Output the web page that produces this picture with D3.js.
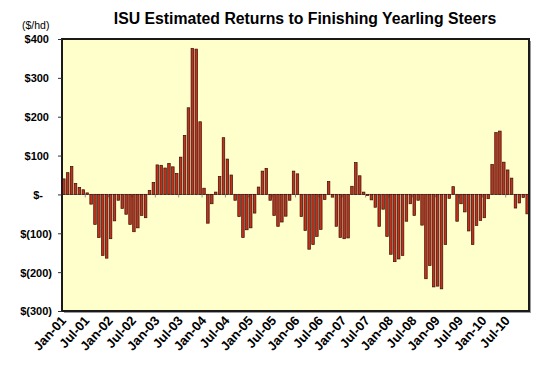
<!DOCTYPE html>
<html>
<head>
<meta charset="utf-8">
<script src="https://cdn.jsdelivr.net/npm/d3@7"></script>
<style>
  body { margin: 0; background: #fff; }
  svg text { font-family: "Liberation Sans", Arial, sans-serif; }
</style>
</head>
<body>
<svg id="chart"></svg>
<script>
var monthNames = ["Jan", "Feb", "Mar", "Apr", "May", "Jun", "Jul", "Aug", "Sep", "Oct", "Nov", "Dec"];
var years = ["01", "02", "03", "04", "05", "06", "07", "08", "09", "10"];

// returns in $/hd, one value per month Jan-01 .. Dec-10
var returns2001 = [40, 56, 72, 28, 18, 12, 4, -25, -77, -111, -157, -164];
var returns2002 = [-114, -68, -15, -36, -51, -77, -96, -86, -54, -60, 10, 31];
var returns2003 = [76, 75, 68, 80, 71, 54, 96, 152, 223, 376, 374, 187];
var returns2004 = [16, -74, -24, 6, 46, 146, 91, 50, -15, -57, -111, -91];
var returns2005 = [-86, -48, 19, 60, 67, -15, -54, -82, -71, -56, -15, 60];
var returns2006 = [53, -57, -93, -141, -129, -108, -90, -13, 33, -7, -82, -111];
var returns2007 = [-114, -112, 21, 82, 48, 6, -3, -14, -33, -82, -38, -108];
var returns2008 = [-154, -173, -166, -157, -69, -24, -54, -15, -79, -217, -183, -238];
var returns2009 = [-236, -243, -129, -10, 20, -69, -24, -45, -94, -129, -80, -67];
var returns2010 = [-60, -11, 77, 159, 163, 83, 63, 42, -35, -22, -8, -50];

var yTicks = [400, 300, 200, 100, 0, -100, -200, -300];
var yTickLabels = ["$400", "$300", "$200", "$100", "$-", "$(100)", "$(200)", "$(300)"];

var categories = [];
years.forEach(y => monthNames.forEach(m => categories.push(m + "-" + y)));
var values = [].concat(returns2001, returns2002, returns2003, returns2004, returns2005,
    returns2006, returns2007, returns2008, returns2009, returns2010);
var data = categories.map((c, i) => ({ cat: c, val: values[i] }));
var xTickLabels = categories.filter((c, i) => i % 6 == 0);

var width = 550, height = 366;
var margin = { top: 39, right: 21, bottom: 55, left: 62 };
var svg = d3.select("#chart").attr("width", width).attr("height", height);

var x = d3.scaleBand()
    .domain(categories)
    .range([margin.left, width - margin.right])
    .paddingInner(0.35)
    .paddingOuter(0.15);

var y = d3.scaleLinear()
    .domain([-300, 400])
    .range([height - margin.bottom, margin.top]);

var plotW = width - margin.left - margin.right;
var plotH = height - margin.top - margin.bottom;

// shadow + plot background
svg.append("rect")
    .attr("x", margin.left + 2).attr("y", margin.top + 2)
    .attr("width", plotW).attr("height", plotH)
    .attr("fill", "#9a9a9a");
svg.append("rect")
    .attr("x", margin.left).attr("y", margin.top)
    .attr("width", plotW).attr("height", plotH)
    .attr("fill", "#ffffcc");

// zero line
svg.append("line")
    .attr("x1", margin.left).attr("x2", width - margin.right)
    .attr("y1", y(0)).attr("y2", y(0))
    .attr("stroke", "#8c8c8c").attr("stroke-width", 1);

// minor ticks on zero line every 6 months
var step = x.step();
svg.selectAll(".zt")
    .data(xTickLabels.slice(1))
    .enter().append("line")
    .attr("x1", d => x(d) - step * x.paddingInner() / 2)
    .attr("x2", d => x(d) - step * x.paddingInner() / 2)
    .attr("y1", y(0)).attr("y2", y(0) + 3)
    .attr("stroke", "#8c8c8c");

// bars
svg.selectAll(".bar")
    .data(data)
    .enter().append("rect")
    .attr("class", "bar")
    .attr("x", d => x(d.cat))
    .attr("width", x.bandwidth())
    .attr("y", d => y(Math.max(0, d.val)))
    .attr("height", d => Math.abs(y(d.val) - y(0)))
    .attr("fill", "#c0321c")
    .attr("stroke", "#3a0c06")
    .attr("stroke-width", 0.7);

// frame
svg.append("rect")
    .attr("x", margin.left).attr("y", margin.top)
    .attr("width", plotW).attr("height", plotH)
    .attr("fill", "none")
    .attr("stroke", "#1a1a1a").attr("stroke-width", 2);

// y axis
var yAxis = d3.axisLeft(y)
    .tickValues(yTicks)
    .tickSize(4)
    .tickFormat((d, i) => yTickLabels[i]);
var gy = svg.append("g")
    .attr("transform", `translate(${margin.left},0)`)
    .call(yAxis);
gy.select(".domain").remove();
gy.selectAll(".tick line").attr("stroke", "#333");
gy.selectAll(".tick text")
    .attr("font-size", "11px")
    .attr("font-weight", "bold")
    .attr("fill", "#000")
    .attr("x", d => d < 0 ? -10 : d == 0 ? -19 : -13)
    .attr("dy", "0.35em");

// x labels
svg.selectAll(".xl")
    .data(xTickLabels)
    .enter().append("text")
    .attr("class", "xl")
    .attr("transform", d => `translate(${x(d) + x.bandwidth() / 2 + 3},${height - margin.bottom + 10}) rotate(-48)`)
    .attr("text-anchor", "end")
    .attr("font-size", "13px")
    .attr("font-weight", "bold")
    .text(d => d);

// title
svg.append("text")
    .attr("x", 305).attr("y", 24)
    .attr("text-anchor", "middle")
    .attr("font-size", "15.8px")
    .attr("font-weight", "bold")
    .text("ISU Estimated Returns to Finishing Yearling Steers");

svg.append("text")
    .attr("x", 22).attr("y", 29)
    .attr("font-size", "10.5px")
    .text("($/hd)");
</script>
</body>
</html>
